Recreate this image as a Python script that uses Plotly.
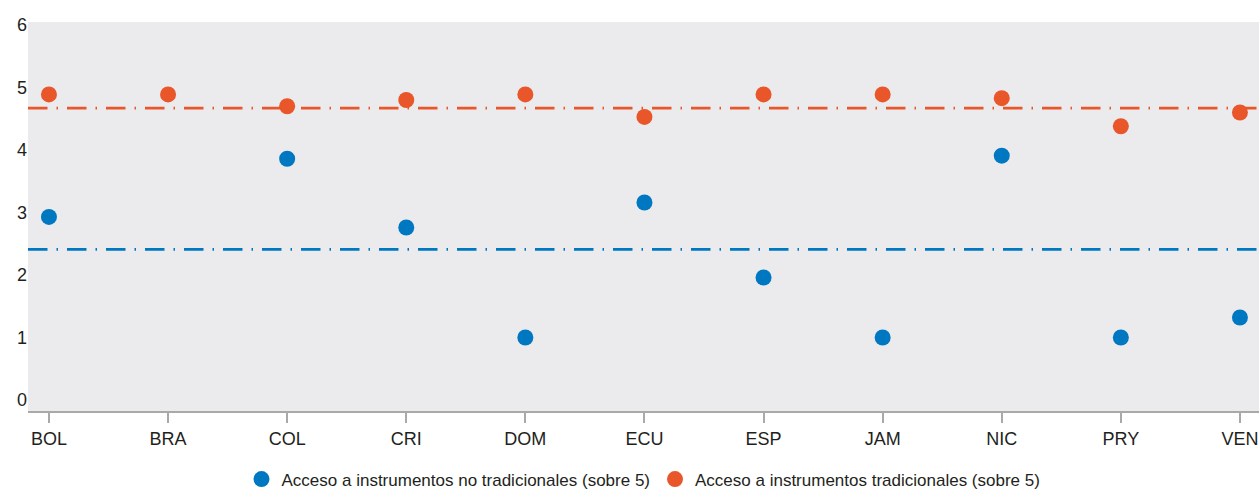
import plotly.graph_objects as go

# Countries on the horizontal axis
countries = ["BOL", "BRA", "COL", "CRI", "DOM", "ECU", "ESP", "JAM", "NIC", "PRY", "VEN"]

# Scores out of 5 (None where a country has no value)
no_tradicionales = [2.93, None, 3.86, 2.76, 1.0, 3.16, 1.96, 1.0, 3.91, 1.0, 1.32]
tradicionales = [4.89, 4.89, 4.70, 4.80, 4.89, 4.53, 4.89, 4.89, 4.83, 4.38, 4.60]

# Reference averages drawn as dash-dot lines
promedio_no_tradicionales = 2.41
promedio_tradicionales = 4.67

y_ticks = [0, 1, 2, 3, 4, 5, 6]

BLUE = "#0078C1"
ORANGE = "#E8562A"
TEXT = "#231F20"
FONT = "Liberation Sans Narrow, Arial Narrow, Liberation Sans, Arial, sans-serif"
DASH = "19.5px,9px,1.5px,9px"

fig = go.Figure()

fig.add_trace(go.Scatter(
    x=countries, y=no_tradicionales, mode="markers",
    name="Acceso a instrumentos no tradicionales (sobre 5)",
    marker=dict(color=BLUE, size=16, line=dict(width=0)),
))
fig.add_trace(go.Scatter(
    x=countries, y=tradicionales, mode="markers",
    name="Acceso a instrumentos tradicionales (sobre 5)",
    marker=dict(color=ORANGE, size=16, line=dict(width=0)),
))

for value, color in [(promedio_tradicionales, ORANGE), (promedio_no_tradicionales, BLUE)]:
    fig.add_shape(
        type="line", xref="paper", x0=0, x1=1, yref="y", y0=value, y1=value,
        line=dict(color=color, width=2.7, dash=DASH), layer="below",
    )

fig.update_layout(
    width=1259, height=492,
    margin=dict(l=28, r=0, t=22, b=81, autoexpand=False),
    paper_bgcolor="white",
    plot_bgcolor="#EBEBEE",
    font=dict(family=FONT, size=18, color=TEXT),
    showlegend=True,
    legend=dict(
        orientation="h", x=0.5, xanchor="center", y=-0.13, yanchor="top",
        font=dict(family=FONT, size=17, color=TEXT),
        itemwidth=30, tracegroupgap=0,
    ),
)

fig.update_xaxes(
    type="category", range=[-0.176, 10.16],
    showgrid=False, zeroline=False,
    showline=True, linecolor="#A9A9A9", linewidth=2,
    ticks="outside", ticklen=10, tickcolor="#A9A9A9", tickwidth=1.5,
    tickfont=dict(family=FONT, size=18, color=TEXT),
)
fig.update_yaxes(
    range=[-0.176, 6.048], tickvals=y_ticks,
    showgrid=False, zeroline=False, showline=False,
    tickfont=dict(family=FONT, size=18, color=TEXT),
)

fig.write_html("out.html")
